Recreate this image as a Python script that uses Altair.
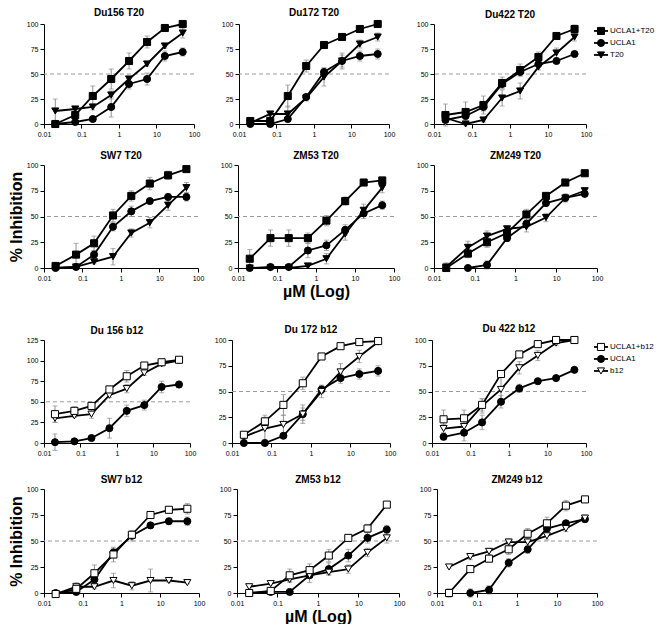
import altair as alt
import pandas as pd

conc = [0.02, 0.068, 0.2, 0.62, 1.85, 5.6, 16.7, 50]
series_t20 = ["UCLA1+T20", "UCLA1", "T20"]
series_b12 = ["UCLA1+b12", "UCLA1", "b12"]
fills_t20 = ["black", "black", "black"]
fills_b12 = ["white", "black", "white"]

# ---------------- T20 panels ----------------
du156_t20_mix = [0, 9, 28, 45, 63, 82, 96, 100]
du156_t20_mix_err = [1, 2, 10, 10, 8, 6, 2, 1]
du156_t20_ucla = [0, 2, 5, 17, 40, 45, 68, 72]
du156_t20_ucla_err = [1, 1, 2, 10, 5, 6, 5, 4]
du156_t20_t20 = [13, 15, 17, 29, 45, 60, 78, 91]
du156_t20_t20_err = [12, 2, 3, 4, 2, 2, 2, 5]

du172_t20_mix = [3, 3, 28, 58, 79, 87, 95, 100]
du172_t20_mix_err = [1, 1, 11, 6, 2, 2, 2, 1]
du172_t20_ucla = [0, 0, 5, 27, 52, 63, 68, 70]
du172_t20_ucla_err = [1, 1, 2, 3, 4, 6, 5, 5]
du172_t20_t20 = [1, 10, 10, 26, 47, 63, 80, 87]
du172_t20_t20_err = [1, 2, 8, 3, 9, 8, 4, 4]

du422_t20_mix = [9, 12, 19, 41, 54, 67, 88, 95]
du422_t20_mix_err = [11, 10, 9, 6, 6, 5, 2, 4]
du422_t20_ucla = [4, 8, 17, 40, 52, 60, 63, 70]
du422_t20_ucla_err = [2, 3, 4, 4, 4, 3, 2, 2]
du422_t20_t20 = [6, 0, 4, 26, 33, 57, 71, 87]
du422_t20_t20_err = [2, 1, 2, 8, 8, 3, 5, 4]

sw7_t20_mix = [2, 13, 24, 51, 70, 82, 90, 96]
sw7_t20_mix_err = [1, 11, 7, 6, 5, 6, 4, 2]
sw7_t20_ucla = [0, 1, 13, 40, 55, 65, 69, 69]
sw7_t20_ucla_err = [1, 1, 4, 4, 5, 2, 3, 4]
sw7_t20_t20 = [0, 1, 6, 11, 34, 44, 61, 78]
sw7_t20_t20_err = [1, 1, 2, 8, 4, 5, 5, 5]

zm53_t20_mix = [9, 29, 29, 29, 46, 65, 83, 85]
zm53_t20_mix_err = [9, 8, 8, 5, 5, 4, 3, 3]
zm53_t20_ucla = [0, 1, 1, 17, 22, 37, 53, 61]
zm53_t20_ucla_err = [1, 1, 1, 7, 5, 5, 5, 4]
zm53_t20_t20 = [0, 0, 0, 2, 9, 33, 56, 78]
zm53_t20_t20_err = [1, 1, 1, 1, 5, 6, 6, 5]

zm249_t20_mix = [0, 14, 25, 34, 52, 70, 83, 92]
zm249_t20_mix_err = [2, 4, 5, 3, 5, 3, 3, 2]
zm249_t20_ucla = [None, 0, 3, 29, 43, 63, 68, 72]
zm249_t20_ucla_err = [None, 1, 4, 3, 3, 3, 3, 3]
zm249_t20_t20 = [1, 20, 31, 38, 40, 49, 68, 75]
zm249_t20_t20_err = [4, 6, 5, 2, 5, 4, 4, 3]

# ---------------- b12 panels ----------------
du156_b12_mix = [35, 39, 45, 65, 81, 94, 98, 101]
du156_b12_mix_err = [10, 5, 3, 4, 7, 3, 2, 2]
du156_b12_ucla = [1, 2, 6, 18, 39, 46, 68, 71]
du156_b12_ucla_err = [10, 1, 2, 12, 7, 6, 7, 4]
du156_b12_b12 = [30, 33, 35, 58, 66, 85, 96, 100]
du156_b12_b12_err = [5, 2, 5, 3, 5, 3, 2, 2]

du172_b12_mix = [8, 21, 37, 58, 84, 94, 98, 99]
du172_b12_mix_err = [3, 6, 10, 6, 2, 2, 2, 1]
du172_b12_ucla = [0, 0, 7, 28, 52, 63, 67, 70]
du172_b12_ucla_err = [1, 1, 2, 6, 4, 5, 5, 5]
du172_b12_b12 = [6, 14, 18, 28, 50, 69, 84, 98]
du172_b12_b12_err = [3, 11, 9, 9, 6, 8, 6, 2]

du422_b12_mix = [23, 24, 37, 67, 86, 96, 100, 100]
du422_b12_mix_err = [9, 8, 6, 3, 3, 2, 1, 1]
du422_b12_ucla = [6, 10, 20, 40, 53, 60, 63, 71]
du422_b12_ucla_err = [3, 8, 7, 6, 4, 2, 2, 2]
du422_b12_b12 = [14, 16, 36, 52, 73, 85, 97, 100]
du422_b12_b12_err = [4, 3, 7, 12, 6, 5, 2, 1]

sw7_b12_mix = [-1, 4, 19, 37, 56, 75, 80, 81]
sw7_b12_mix_err = [1, 2, 8, 7, 3, 2, 3, 5]
sw7_b12_ucla = [0, 1, 13, 39, 55, 65, 69, 69]
sw7_b12_ucla_err = [1, 1, 4, 4, 5, 2, 3, 4]
sw7_b12_b12 = [-1, 6, 6, 12, 7, 12, 12, 10]
sw7_b12_b12_err = [1, 4, 2, 7, 4, 11, 2, 1]

zm53_b12_mix = [0, 2, 17, 22, 36, 53, 62, 85]
zm53_b12_mix_err = [1, 1, 6, 6, 6, 3, 4, 2]
zm53_b12_ucla = [0, 1, 1, 17, 23, 36, 53, 61]
zm53_b12_ucla_err = [1, 1, 1, 7, 6, 6, 5, 4]
zm53_b12_b12 = [6, 9, 13, 17, 20, 23, 39, 53]
zm53_b12_b12_err = [1, 1, 3, 2, 2, 4, 4, 5]

zm249_b12_mix = [0, 23, 33, 42, 57, 67, 84, 90]
zm249_b12_mix_err = [4, 2, 2, 5, 5, 6, 5, 2]
zm249_b12_ucla = [None, 0, 3, 29, 42, 62, 67, 71]
zm249_b12_ucla_err = [None, 4, 4, 4, 4, 3, 3, 3]
zm249_b12_b12 = [25, 35, 40, 49, 49, 55, 62, 72]
zm249_b12_b12_err = [1, 3, 3, 3, 4, 4, 3, 3]

panel_data = [
    ("Du156 T20", series_t20, du156_t20_mix, du156_t20_mix_err, du156_t20_ucla, du156_t20_ucla_err, du156_t20_t20, du156_t20_t20_err),
    ("Du172 T20", series_t20, du172_t20_mix, du172_t20_mix_err, du172_t20_ucla, du172_t20_ucla_err, du172_t20_t20, du172_t20_t20_err),
    ("Du422 T20", series_t20, du422_t20_mix, du422_t20_mix_err, du422_t20_ucla, du422_t20_ucla_err, du422_t20_t20, du422_t20_t20_err),
    ("SW7 T20", series_t20, sw7_t20_mix, sw7_t20_mix_err, sw7_t20_ucla, sw7_t20_ucla_err, sw7_t20_t20, sw7_t20_t20_err),
    ("ZM53 T20", series_t20, zm53_t20_mix, zm53_t20_mix_err, zm53_t20_ucla, zm53_t20_ucla_err, zm53_t20_t20, zm53_t20_t20_err),
    ("ZM249 T20", series_t20, zm249_t20_mix, zm249_t20_mix_err, zm249_t20_ucla, zm249_t20_ucla_err, zm249_t20_t20, zm249_t20_t20_err),
    ("Du 156 b12", series_b12, du156_b12_mix, du156_b12_mix_err, du156_b12_ucla, du156_b12_ucla_err, du156_b12_b12, du156_b12_b12_err),
    ("Du 172 b12", series_b12, du172_b12_mix, du172_b12_mix_err, du172_b12_ucla, du172_b12_ucla_err, du172_b12_b12, du172_b12_b12_err),
    ("Du 422 b12", series_b12, du422_b12_mix, du422_b12_mix_err, du422_b12_ucla, du422_b12_ucla_err, du422_b12_b12, du422_b12_b12_err),
    ("SW7 b12", series_b12, sw7_b12_mix, sw7_b12_mix_err, sw7_b12_ucla, sw7_b12_ucla_err, sw7_b12_b12, sw7_b12_b12_err),
    ("ZM53 b12", series_b12, zm53_b12_mix, zm53_b12_mix_err, zm53_b12_ucla, zm53_b12_ucla_err, zm53_b12_b12, zm53_b12_b12_err),
    ("ZM249  b12", series_b12, zm249_b12_mix, zm249_b12_mix_err, zm249_b12_ucla, zm249_b12_ucla_err, zm249_b12_b12, zm249_b12_b12_err),
]

records = []
for name, ser, mix, mix_e, ucla, ucla_e, ag, ag_e in panel_data:
    # draw order: UCLA1, single agent, combination (on top)
    for s, vals, errs in ((ser[1], ucla, ucla_e), (ser[2], ag, ag_e), (ser[0], mix, mix_e)):
        for xv, v, e in zip(conc, vals, errs):
            if v is None:
                continue
            records.append({"panel": name, "series": s, "x": xv, "y": v,
                            "lo": v - e, "hi": v + e})
df = pd.DataFrame(records)

FONT = "Liberation Sans"
GREY = "#8f8f8f"
SHAPES = ["square", "circle", "triangle-down"]
MSIZE = 50
LW = 1.8


def make_panel(name, series, fills, w, h, ymax=100, ytitle=0, xtitle=False, legend=False):
    d = df[df.panel == name]
    xs = alt.Scale(type="log", domain=[0.01, 100])
    ys = alt.Scale(domain=[0, ymax], nice=False, zero=False)
    xaxis_kw = dict(values=[0.01, 0.1, 1, 10, 100], format="~g", labelFlush=False)
    if xtitle:
        xaxis_kw.update(title="µM (Log)", titleFontSize=16, titleFontWeight="bold", titlePadding=2)
    else:
        xaxis_kw.update(title=None)
    yaxis_kw = dict(values=list(range(0, ymax + 1, 25)))
    if ytitle:
        yaxis_kw.update(title="% Inhibition", titleFontSize=16, titleFontWeight="bold", titlePadding=2)
        if ytitle == 1:
            yaxis_kw.update(titleOpacity=0)
    else:
        yaxis_kw.update(title=None)
    xaxis = alt.Axis(**xaxis_kw)
    yaxis = alt.Axis(**yaxis_kw)
    X = alt.X("x:Q", scale=xs, axis=xaxis)
    shape = alt.Shape("series:N", scale=alt.Scale(domain=series, range=SHAPES), legend=None)
    fill = alt.Fill("series:N", scale=alt.Scale(domain=series, range=fills), legend=None)

    ref = alt.Chart(pd.DataFrame({"v": [50]})).mark_rule(
        color="#9a9a9a", strokeDash=[4, 3], strokeWidth=1
    ).encode(y=alt.Y("v:Q", scale=ys, axis=yaxis))
    base = alt.Chart(d)
    err = base.mark_rule(color=GREY, strokeWidth=1).encode(
        x=X, y=alt.Y("lo:Q", scale=ys, axis=yaxis), y2="hi:Q")
    cap_lo = base.mark_tick(color=GREY, orient="horizontal", size=5, thickness=1).encode(
        x=X, y=alt.Y("lo:Q", scale=ys, axis=yaxis))
    cap_hi = base.mark_tick(color=GREY, orient="horizontal", size=5, thickness=1).encode(
        x=X, y=alt.Y("hi:Q", scale=ys, axis=yaxis))
    lines = base.mark_line(color="black", strokeWidth=LW).encode(
        x=X, y=alt.Y("y:Q", scale=ys, axis=yaxis), detail="series:N")
    pts = base.mark_point(filled=True, size=MSIZE, stroke="black", strokeWidth=1, opacity=1).encode(
        x=X, y=alt.Y("y:Q", scale=ys, axis=yaxis), shape=shape, fill=fill)
    main = alt.layer(ref, err, cap_lo, cap_hi, lines, pts)

    title = alt.TitleParams(name, fontSize=10, fontWeight="bold", font=FONT, anchor="middle",
                            frame="group", offset=0, color="black")
    if legend:
        ldf = pd.DataFrame({"series": series, "idx": list(range(len(series)))})
        span = h / 12.0
        lscale = alt.Scale(domain=[-0.58, span - 0.58], reverse=True, nice=False, zero=False)
        LY = alt.Y("idx:Q", scale=lscale, axis=None)
        lb = alt.Chart(ldf)
        lrule = lb.mark_rule(color="black", strokeWidth=LW).encode(
            x=alt.value(w + 8), x2=alt.value(w + 22), y=LY)
        lpt = lb.mark_point(filled=True, size=MSIZE, stroke="black", strokeWidth=1, opacity=1).encode(
            x=alt.value(w + 15), y=LY, shape=shape, fill=fill)
        ltxt = lb.mark_text(align="left", baseline="middle", fontSize=8, font=FONT, color="black").encode(
            x=alt.value(w + 24), y=LY, text="series:N")
        leg = alt.layer(lrule, lpt, ltxt)
        chart = alt.layer(main, leg).resolve_scale(y="independent")
    else:
        chart = main
    return chart.properties(width=w, height=h, title=title)


p = [r[0] for r in panel_data]
row1 = alt.hconcat(
    make_panel(p[0], series_t20, fills_t20, 150, 100, ytitle=1),
    make_panel(p[1], series_t20, fills_t20, 150, 100),
    make_panel(p[2], series_t20, fills_t20, 152, 100, legend=True),
    spacing=21)
row2 = alt.hconcat(
    make_panel(p[3], series_t20, fills_t20, 154, 103, ytitle=2),
    make_panel(p[4], series_t20, fills_t20, 156, 103, xtitle=True),
    make_panel(p[5], series_t20, fills_t20, 163, 103),
    spacing=16)
row3 = alt.hconcat(
    make_panel(p[6], series_b12, fills_b12, 146, 103, ymax=125, ytitle=1),
    make_panel(p[7], series_b12, fills_b12, 158, 103),
    make_panel(p[8], series_b12, fills_b12, 154, 103, legend=True),
    spacing=18)
row4 = alt.hconcat(
    make_panel(p[9], series_b12, fills_b12, 155, 104, ytitle=2),
    make_panel(p[10], series_b12, fills_b12, 162, 104, xtitle=True),
    make_panel(p[11], series_b12, fills_b12, 160, 104),
    spacing=14)

top = alt.vconcat(row1, row2, spacing=14)
bottom = alt.vconcat(row3, row4, spacing=19)
chart = alt.vconcat(top, bottom, spacing=25).resolve_scale(
    fill="independent", shape="independent"
).properties(padding=0).configure_view(
    stroke=None
).configure_axis(
    domainColor="black", tickColor="black", labelColor="black", labelFont=FONT,
    labelFontSize=7, titleFont=FONT, titleColor="black", grid=False, tickSize=4,
    labelPadding=2, domainWidth=1, tickWidth=1
)

chart.save("out.html", embed_options={"renderer": "svg", "actions": False})
